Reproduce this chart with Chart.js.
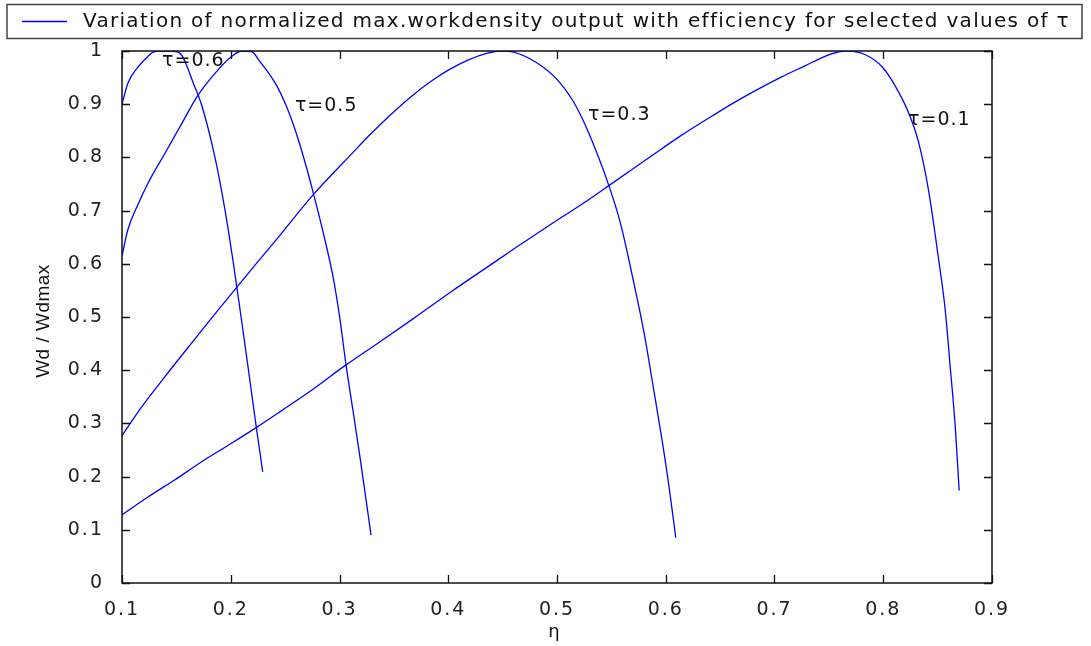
<!DOCTYPE html>
<html>
<head>
<meta charset="utf-8">
<script src="https://cdn.jsdelivr.net/npm/chart.js@4.4.0/dist/chart.umd.min.js"></script>
<style>
    body { margin: 0; background: #fff; }
    #wrap { width: 1091px; height: 646px; position: relative; }
</style>
</head>
<body>
<div id="wrap"><canvas id="chart"></canvas></div>
<script>

// values
const tau06X = [0.1, 0.1055, 0.1148, 0.124, 0.1286, 0.135, 0.142, 0.15, 0.155, 0.159, 0.1655, 0.173, 0.1855, 0.1948, 0.2025, 0.2095, 0.2163, 0.223, 0.2294];
const tau06Y = [0.90, 0.94, 0.97, 0.99, 0.998, 1.0, 1.0, 0.999, 0.992, 0.975, 0.94, 0.90, 0.80, 0.70, 0.60, 0.50, 0.40, 0.30, 0.209];

const tau05X = [0.1, 0.1055, 0.1148, 0.124, 0.139, 0.1548, 0.1686, 0.1855, 0.201, 0.210, 0.219, 0.2269, 0.2422, 0.2514, 0.2606, 0.2698, 0.2759, 0.2851, 0.2943, 0.3005, 0.306, 0.3127, 0.3182, 0.3219, 0.329];
const tau05Y = [0.615, 0.665, 0.712, 0.752, 0.806, 0.863, 0.913, 0.958, 0.99, 1.0, 0.999, 0.98, 0.935, 0.895, 0.843, 0.78, 0.733, 0.658, 0.573, 0.495, 0.41, 0.32, 0.245, 0.193, 0.09];

const tau03X = [0.1, 0.1181, 0.1395, 0.1671, 0.1855, 0.2064, 0.2225, 0.241, 0.2759, 0.3127, 0.3277, 0.3458, 0.3669, 0.3849, 0.40, 0.418, 0.4361, 0.448, 0.46, 0.4813, 0.4994, 0.5145, 0.5277, 0.5477, 0.5585, 0.5692, 0.58, 0.5892, 0.5969, 0.6031, 0.6092];
const tau03Y = [0.277, 0.331, 0.388, 0.459, 0.506, 0.558, 0.598, 0.643, 0.73, 0.81, 0.842, 0.878, 0.916, 0.944, 0.964, 0.983, 0.996, 1.0, 0.998, 0.978, 0.948, 0.907, 0.853, 0.747, 0.675, 0.578, 0.471, 0.36, 0.265, 0.18, 0.085];

const tau01X = [0.1, 0.1242, 0.1487, 0.1733, 0.1978, 0.2248, 0.2468, 0.2713, 0.306, 0.3326, 0.3679, 0.403, 0.4331, 0.4633, 0.4934, 0.5235, 0.5477, 0.5954, 0.6133, 0.6443, 0.6628, 0.6845, 0.7062, 0.7279, 0.7464, 0.76, 0.7681, 0.7836, 0.7991, 0.8108, 0.8231, 0.8323, 0.8415, 0.8508, 0.8569, 0.8615, 0.8662, 0.8698];
const tau01Y = [0.128, 0.162, 0.194, 0.228, 0.259, 0.294, 0.324, 0.358, 0.41, 0.447, 0.497, 0.548, 0.59, 0.632, 0.673, 0.713, 0.747, 0.815, 0.84, 0.88, 0.903, 0.928, 0.951, 0.972, 0.99, 0.999, 1.0, 0.993, 0.97, 0.935, 0.885, 0.83, 0.74, 0.61, 0.515, 0.408, 0.294, 0.174];

const seriesNames = ['τ=0.6', 'τ=0.5', 'τ=0.3', 'τ=0.1'];
// where each curve label sits (left edge, middle of text), in data units
const labelX = [0.1368, 0.259, 0.5285, 0.8228];
const labelY = [0.981, 0.897, 0.880, 0.870];

const xTicks = [0.1, 0.2, 0.3, 0.4, 0.5, 0.6, 0.7, 0.8, 0.9];
const xTickLabels = ['0.1', '0.2', '0.3', '0.4', '0.5', '0.6', '0.7', '0.8', '0.9'];
const yTicks = [0, 0.1, 0.2, 0.3, 0.4, 0.5, 0.6, 0.7, 0.8, 0.9, 1];
const yTickLabels = ['0', '0.1', '0.2', '0.3', '0.4', '0.5', '0.6', '0.7', '0.8', '0.9', '1'];

const legendText = 'Variation of normalized max.workdensity output with efficiency for selected values of τ';
const xTitle = 'η';
const yTitle = 'Wd / Wdmax';

const lineColor = '#0000ff';

function toPoints(xs, ys) {
    let pts = [];
    for (let i = 0; i < xs.length; i++) {
        pts.push({ x: xs[i], y: ys[i] });
    }
    return pts;
}

const allX = [tau06X, tau05X, tau03X, tau01X];
const allY = [tau06Y, tau05Y, tau03Y, tau01Y];

const datasets = seriesNames.map((name, i) => ({
    label: name,
    data: toPoints(allX[i], allY[i]),
    borderColor: lineColor,
    borderWidth: 1.3,
    pointRadius: 0,
    cubicInterpolationMode: 'monotone',
    fill: false
}));

// box round the plot, inward ticks on all four sides, titles, curve labels, legend box
const matlabFrame = {
    id: 'matlabFrame',
    afterDatasetsDraw(chart) {
        const ctx = chart.ctx;
        const a = chart.chartArea;
        const xs = chart.scales.x;
        const ys = chart.scales.y;

        ctx.save();
        ctx.letterSpacing = '0px';
        ctx.strokeStyle = '#111';
        ctx.lineWidth = 1.5;
        ctx.strokeRect(a.left, a.top, a.right - a.left, a.bottom - a.top);

        ctx.beginPath();
        xTicks.forEach(v => {
            const px = Math.round(xs.getPixelForValue(v)) + 0.5;
            ctx.moveTo(px, a.bottom); ctx.lineTo(px, a.bottom - 8);
            ctx.moveTo(px, a.top); ctx.lineTo(px, a.top + 8);
        });
        yTicks.forEach(v => {
            const py = Math.round(ys.getPixelForValue(v)) + 0.5;
            ctx.moveTo(a.left, py); ctx.lineTo(a.left + 8, py);
            ctx.moveTo(a.right, py); ctx.lineTo(a.right - 8, py);
        });
        ctx.lineWidth = 1.3;
        ctx.stroke();

        ctx.fillStyle = '#111';
        ctx.textBaseline = 'middle';

        // axis titles
        ctx.textAlign = 'center';
        ctx.font = '18px "DejaVu Sans"';
        ctx.fillText(xTitle, (a.left + a.right) / 2 - 3, 632);
        ctx.save();
        ctx.translate(44, (a.top + a.bottom) / 2 + 4);
        ctx.rotate(-Math.PI / 2);
        ctx.font = '19px "Liberation Sans"';
        ctx.letterSpacing = '0.5px';
        ctx.fillText(yTitle, 0, 0);
        ctx.restore();

        // curve labels
        ctx.textAlign = 'left';
        ctx.font = '19px "DejaVu Sans"';
        ctx.letterSpacing = '1px';
        seriesNames.forEach((name, i) => {
            ctx.fillText(name, xs.getPixelForValue(labelX[i]), ys.getPixelForValue(labelY[i]));
        });

        // legend
        ctx.strokeStyle = '#444';
        ctx.lineWidth = 1.5;
        ctx.strokeRect(7, 4.5, 1075, 34);
        ctx.beginPath();
        ctx.strokeStyle = lineColor;
        ctx.lineWidth = 1.3;
        ctx.moveTo(22, 21.5);
        ctx.lineTo(67, 21.5);
        ctx.stroke();
        ctx.font = '20px "DejaVu Sans"';
        ctx.letterSpacing = '1.3px';
        ctx.fillText(legendText, 83, 22);
        ctx.restore();
    }
};

// wider spacing for the tick numbers like the original
const spacing = {
    id: 'spacing',
    beforeDraw(chart) { chart.ctx.letterSpacing = '2px'; },
    afterDraw(chart) { chart.ctx.letterSpacing = '0px'; }
};

const ctx = document.getElementById('chart').getContext('2d');
const myChart = new Chart(ctx, {
    type: 'line',
    data: { datasets: datasets },
    options: {
        responsive: true,
        maintainAspectRatio: false,
        animation: false,
        layout: { padding: { top: 51, right: 99, left: 0, bottom: 0 } },
        plugins: {
            legend: { display: false },
            tooltip: { enabled: false }
        },
        scales: {
            x: {
                type: 'linear',
                min: 0.1,
                max: 0.9,
                afterBuildTicks: s => { s.ticks = xTicks.map(v => ({ value: v })); },
                afterFit: s => { s.height = 63; },
                grid: { display: false },
                border: { display: false },
                ticks: {
                    autoSkip: false,
                    maxRotation: 0,
                    padding: 8,
                    color: '#222',
                    font: { family: 'DejaVu Sans', size: 19 },
                    callback: (v, i) => xTickLabels[i]
                }
            },
            y: {
                min: 0,
                max: 1,
                afterBuildTicks: s => { s.ticks = yTicks.map(v => ({ value: v })); },
                afterFit: s => { s.width = 122; },
                grid: { display: false },
                border: { display: false },
                ticks: {
                    autoSkip: false,
                    padding: 10,
                    color: '#222',
                    font: { family: 'DejaVu Sans', size: 19 },
                    callback: (v, i) => yTickLabels[i]
                }
            }
        }
    },
    plugins: [spacing, matlabFrame]
});

</script>
</body>
</html>
